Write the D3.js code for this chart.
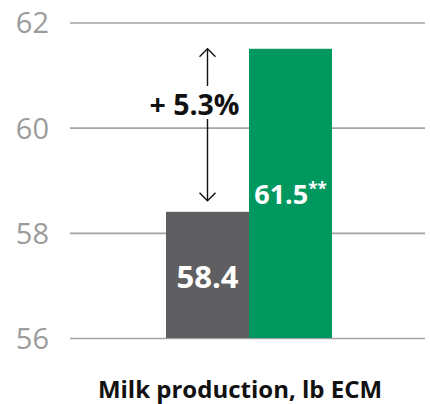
<!DOCTYPE html>
<html>
<head>
<meta charset="utf-8">
<script src="https://cdn.jsdelivr.net/npm/d3@7"></script>
<style>
  html, body { margin: 0; padding: 0; background: #fff; }
  svg { display: block; }
  text { font-family: "Open Sans", "Noto Sans", sans-serif; }
</style>
</head>
<body>
<svg id="chart" width="430" height="404"></svg>
<script>
// Milk production per group, lb ECM
const groups = ["Control", "Treatment"];
const values = [58.4, 61.5];
const valueLabels = ["58.4", "61.5"];
const valueMarks = ["", "**"];
const barColors = ["#5f5f61", "#00985f"];
const yTicks = [56, 58, 60, 62];
const changeLabel = "+ 5.3%";
const axisTitle = "Milk production, lb ECM";

const svg = d3.select("#chart");

const y = d3.scaleLinear().domain([56, 62]).range([338, 22.5]);
const x = d3.scaleBand().domain(groups).range([166, 332]).padding(0);

// horizontal gridlines
const axis = d3.axisLeft(y).tickValues(yTicks).tickFormat(d3.format("d")).tickSize(0).tickPadding(0);
const gAxis = svg.append("g").attr("transform", "translate(70,0)").call(axis);
gAxis.select(".domain").remove();
gAxis.selectAll(".tick line")
  .attr("x2", 355)
  .attr("stroke", "#a3a3a3")
  .attr("stroke-width", 1.6);
gAxis.selectAll(".tick text")
  .attr("x", -21)
  .attr("dy", "0.36em")
  .attr("fill", "#9c9c9c")
  .attr("font-size", 29)
  .attr("font-family", "'Open Sans', sans-serif")
  .attr("text-anchor", "end");

// bars
svg.append("g").selectAll("rect")
  .data(groups)
  .join("rect")
  .attr("x", d => x(d))
  .attr("width", x.bandwidth())
  .attr("y", (d, i) => y(values[i]))
  .attr("height", (d, i) => y(56) - y(values[i]))
  .attr("fill", (d, i) => barColors[i]);

// value labels
svg.append("text")
  .attr("x", x(groups[0]) + x.bandwidth() / 2)
  .attr("y", 288)
  .attr("text-anchor", "middle")
  .attr("fill", "#fff")
  .attr("font-weight", 700)
  .attr("font-size", 31)
  .text(valueLabels[0]);

const lbl1 = svg.append("text")
  .attr("x", x(groups[1]) + x.bandwidth() / 2)
  .attr("y", 204)
  .attr("text-anchor", "middle")
  .attr("fill", "#fff")
  .attr("font-weight", 700)
  .attr("font-size", 27);
lbl1.append("tspan").text(valueLabels[1]);
lbl1.append("tspan")
  .attr("font-size", 17)
  .attr("dy", -9)
  .text(valueMarks[1]);

// difference arrow with label
const ax = x(groups[0]) + x.bandwidth() / 2;
const yTop = y(values[1]);
const yBot = y(values[0]) - 11;
const arrow = svg.append("g").attr("stroke", "#111").attr("stroke-width", 1.4).attr("fill", "none");
arrow.append("line").attr("x1", ax).attr("x2", ax).attr("y1", yTop).attr("y2", 86);
arrow.append("line").attr("x1", ax).attr("x2", ax).attr("y1", 119).attr("y2", yBot);
arrow.append("path").attr("d", `M${ax - 8},${yTop + 8}L${ax},${yTop}L${ax + 8},${yTop + 8}`);
arrow.append("path").attr("d", `M${ax - 8},${yBot - 8}L${ax},${yBot}L${ax + 8},${yBot - 8}`);

svg.append("text")
  .attr("x", 194.5)
  .attr("y", 115)
  .attr("text-anchor", "middle")
  .attr("fill", "#111")
  .attr("font-weight", 700)
  .attr("font-size", 28.5)
  .text(changeLabel);

// axis title
svg.append("text")
  .attr("x", 240)
  .attr("y", 398)
  .attr("text-anchor", "middle")
  .attr("fill", "#111")
  .attr("font-weight", 700)
  .attr("font-size", 24)
  .text(axisTitle);
</script>
</body>
</html>
